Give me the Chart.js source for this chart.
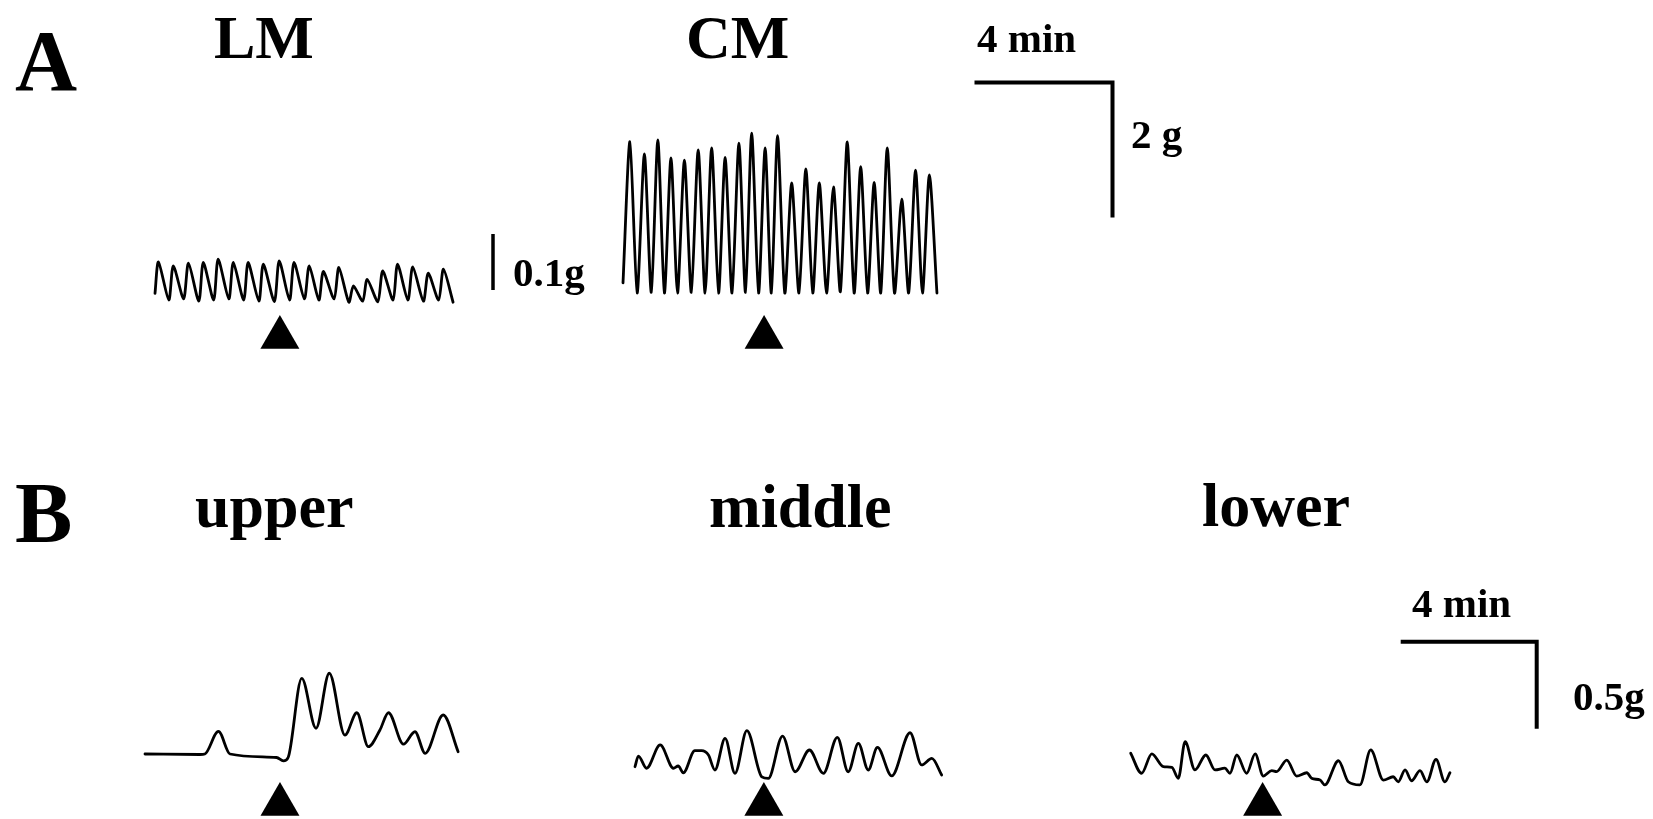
<!DOCTYPE html>
<html lang="en">
<head>
<meta charset="UTF-8">
<title>LM / CM and upper / middle / lower contractions</title>
<script src="https://cdn.jsdelivr.net/npm/chart.js"></script>
<style>
  body { margin: 0; width: 1653px; height: 819px; background: #fff; position: relative; overflow: hidden;
         font-family: 'Liberation Serif', 'Times New Roman', serif; }
  canvas { position: absolute; }
  .lbl { position: absolute; font-weight: bold; line-height: 1; white-space: nowrap; color: #000; }
</style>
</head>
<body>
<canvas id="lm"></canvas>
<canvas id="cm"></canvas>
<canvas id="upper"></canvas>
<canvas id="middle"></canvas>
<canvas id="lower"></canvas>

<script>
// ---- data: time in min, force in g ----
const lmTime = [0, 0.10, 0.40, 0.53, 0.83, 0.97, 1.27, 1.40, 1.70, 1.83, 2.14, 2.27, 2.57, 2.70, 3.01, 3.14, 3.46, 3.60, 3.90, 4.03,
                4.33, 4.47, 4.75, 4.88, 5.19, 5.33, 5.62, 5.75, 6.02, 6.15, 6.46, 6.60, 6.90, 7.03, 7.33, 7.47, 7.78, 7.92, 8.22, 8.36, 8.64];
const lmForce = [0.012, 0.068, 0.0, 0.061, 0.002, 0.066, -0.002, 0.067, 0.0, 0.073, 0.002, 0.067, 0.0, 0.067, -0.002, 0.064, -0.003, 0.070, 0.0, 0.067,
                 0.002, 0.061, 0.0, 0.051, 0.002, 0.058, -0.004, 0.025, -0.002, 0.037, -0.003, 0.052, 0.0, 0.064, 0.0, 0.059, -0.002, 0.048, 0.0, 0.055, -0.004];

const cmTime = [0, 0.20, 0.41, 0.62, 0.82, 1.01, 1.20, 1.39, 1.58, 1.78, 1.98, 2.18, 2.38, 2.57, 2.77, 2.96, 3.16, 3.36, 3.55, 3.73, 3.93, 4.12,
                4.30, 4.48, 4.69, 4.89, 5.10, 5.30, 5.50, 5.69, 5.90, 6.10, 6.30, 6.50, 6.70, 6.89, 7.09, 7.28, 7.47, 7.66, 7.87, 8.08, 8.28, 8.48, 8.68, 8.88, 9.10];
const cmForce = [0.15, 2.24, 0.0, 2.06, 0.01, 2.27, 0.0, 2.00, 0.0, 1.97, 0.01, 2.12, 0.0, 2.15, 0.0, 2.01, 0.0, 2.22, 0.01, 2.37, 0.0, 2.15,
                 0.0, 2.33, 0.0, 1.63, 0.0, 1.84, 0.0, 1.63, 0.0, 1.57, 0.02, 2.24, 0.0, 1.87, 0.0, 1.64, 0.0, 2.15, 0.0, 1.39, 0.0, 1.82, 0.0, 1.75, 0.0];

const upperTime = [0, 1.62, 1.76, 2.16, 2.50, 3.87, 4.07, 4.21, 4.61, 5.03, 5.42, 5.88, 6.23, 6.57, 6.91, 7.16, 7.60, 7.94, 8.24, 8.77, 9.21];
const upperForce = [0, -0.003, 0.0, 0.13, 0.0, -0.02, -0.04, -0.02, 0.435, 0.148, 0.464, 0.109, 0.237, 0.042, 0.138, 0.237, 0.057, 0.128, 0.004, 0.224, 0.013];

const middleTime = [0, 0.10, 0.34, 0.74, 1.13, 1.27, 1.42, 1.76, 1.96, 2.16, 2.35, 2.65, 2.94, 3.29, 3.73, 3.92, 4.34, 4.71, 5.13, 5.54,
                    5.95, 6.27, 6.57, 6.86, 7.13, 7.55, 8.09, 8.43, 8.73, 9.02];
const middleForce = [0.019, 0.080, 0.010, 0.144, 0.010, 0.023, -0.016, 0.111, 0.111, 0.086, 0.0, 0.182, -0.019, 0.226, -0.039, -0.048, 0.195, -0.010, 0.115, -0.019,
                     0.188, -0.010, 0.153, 0.0, 0.130, -0.034, 0.214, 0.029, 0.067, -0.029];

const lowerTime = [0, 0.32, 0.62, 0.96, 1.21, 1.40, 1.60, 1.89, 2.21, 2.48, 2.77, 2.92, 3.12, 3.41, 3.66, 3.90, 4.15, 4.29, 4.59, 4.88,
                   5.18, 5.32, 5.57, 5.71, 6.11, 6.40, 6.74, 7.06, 7.43, 7.72, 7.87, 8.07, 8.26, 8.51, 8.71, 8.98, 9.24, 9.39];
const lowerForce = [0.125, 0.010, 0.121, 0.048, 0.044, -0.019, 0.191, 0.029, 0.115, 0.029, 0.039, 0.010, 0.115, 0.010, 0.121, -0.006, 0.025, 0.019, 0.086, -0.006,
                    0.013, -0.019, -0.029, -0.057, 0.082, -0.039, -0.057, 0.144, -0.029, -0.010, -0.039, 0.029, -0.033, 0.025, -0.039, 0.090, -0.039, 0.013];

// time of drug application (triangles), min from trace start
const stimLM = 3.62, stimCM = 4.09, stimUpper = 3.97, stimMiddle = 3.79, stimLower = 3.88;

// calibration bars
const barMinutes = 4;
const lmBarG = 0.1, cmBarG = 2, bBarG = 0.5;

// ---- layout (pixels) ----
const PX_MIN_A = 34.5, PX_MIN_B = 34;
const PX_G_LM = 560, PX_G_CM = 67.5, PX_G_B = 174;
const INK = '#000';

function pts(xs, ys) { return xs.map((x, i) => ({ x: x, y: ys[i] })); }

// spiky traces (panel A) use a low-tension spline, slow waves (panel B) the monotone one
function traceLine(xs, ys, spiky) {
  const ds = { data: pts(xs, ys), borderColor: INK, borderWidth: 2.8, pointRadius: 0, clip: false,
               borderJoinStyle: 'round', borderCapStyle: 'round' };
  if (spiky) ds.tension = 0.25;
  else ds.cubicInterpolationMode = 'monotone';
  return ds;
}

function marker(t, g) {
  return { data: [{ x: t, y: g }], showLine: false, pointStyle: 'triangle', pointRadius: 22.5,
           pointBackgroundColor: INK, pointBorderWidth: 0, clip: false };
}

function bar(points, w) {
  return { data: points, borderColor: INK, borderWidth: w, tension: 0, pointRadius: 0,
           borderCapStyle: 'butt', borderJoinStyle: 'miter', clip: false };
}

function traceChart(id, box, origin, pxMin, pxG, datasets) {
  const cv = document.getElementById(id);
  cv.width = box.w; cv.height = box.h;
  cv.style.left = box.l + 'px'; cv.style.top = box.t + 'px';
  return new Chart(cv, {
    type: 'line',
    data: { datasets: datasets },
    options: {
      responsive: false,
      animation: false,
      layout: { padding: 0, autoPadding: false },
      plugins: { legend: { display: false }, tooltip: { enabled: false } },
      scales: {
        x: { type: 'linear', display: false,
             min: (box.l - origin.x) / pxMin, max: (box.l + box.w - origin.x) / pxMin },
        y: { type: 'linear', display: false,
             min: (origin.y - box.t - box.h) / pxG, max: (origin.y - box.t) / pxG }
      }
    }
  });
}

// px -> units helpers for one chart
const toT = (px, o, s) => (px - o.x) / s;
const toG = (py, o, s) => (o.y - py) / s;

// LM
const lmO = { x: 155, y: 300 };
const lmBarX = toT(493, lmO, PX_MIN_A), lmBarBottom = toG(290, lmO, PX_G_LM);
traceChart('lm', { l: 130, t: 215, w: 390, h: 140 }, lmO, PX_MIN_A, PX_G_LM, [
  traceLine(lmTime, lmForce, true),
  marker(stimLM, toG(337.5, lmO, PX_G_LM)),
  bar([{ x: lmBarX, y: lmBarBottom }, { x: lmBarX, y: lmBarBottom + lmBarG }], 3.5)
]);

// CM + calibration A
const cmO = { x: 623, y: 293 };
const cA = { x: toT(1112.5, cmO, PX_MIN_A), y: toG(82.5, cmO, PX_G_CM) };
traceChart('cm', { l: 600, t: 60, w: 560, h: 300 }, cmO, PX_MIN_A, PX_G_CM, [
  traceLine(cmTime, cmForce, true),
  marker(stimCM, toG(337.5, cmO, PX_G_CM)),
  bar([{ x: cA.x - barMinutes, y: cA.y }, { x: cA.x, y: cA.y }, { x: cA.x, y: cA.y - cmBarG }], 4)
]);

// B panel
const upO = { x: 145, y: 754 };
traceChart('upper', { l: 120, t: 650, w: 380, h: 169 }, upO, PX_MIN_B, PX_G_B, [
  traceLine(upperTime, upperForce, false),
  marker(stimUpper, toG(804.5, upO, PX_G_B))
]);

const midO = { x: 635, y: 770 };
traceChart('middle', { l: 600, t: 700, w: 380, h: 119 }, midO, PX_MIN_B, PX_G_B, [
  traceLine(middleTime, middleForce, false),
  marker(stimMiddle, toG(804.5, midO, PX_G_B))
]);

const lowO = { x: 1130.7, y: 775 };
const cB = { x: toT(1536.7, lowO, PX_MIN_B), y: toG(641.7, lowO, PX_G_B) };
traceChart('lower', { l: 1100, t: 600, w: 553, h: 219 }, lowO, PX_MIN_B, PX_G_B, [
  traceLine(lowerTime, lowerForce, false),
  marker(stimLower, toG(804.5, lowO, PX_G_B)),
  bar([{ x: cB.x - barMinutes, y: cB.y }, { x: cB.x, y: cB.y }, { x: cB.x, y: cB.y - bBarG }], 4)
]);

// ---- text ----
const labels = [
  ['A', 15, 90, 86], ['LM', 214, 58, 62], ['CM', 686, 58, 62],
  ['4 min', 977, 52, 41], ['2 g', 1131, 148, 41], ['0.1g', 513, 286, 41],
  ['B', 15, 542, 86], ['upper', 195, 527, 62], ['middle', 709, 527, 62], ['lower', 1202, 526, 62],
  ['4 min', 1412, 617, 41], ['0.5g', 1573, 710, 41]
];
labels.forEach(([txt, x, base, size]) => {
  const d = document.createElement('div');
  d.className = 'lbl';
  d.textContent = txt;
  d.style.fontSize = size + 'px';
  d.style.left = x + 'px';
  d.style.top = (base - 0.8375 * size) + 'px';
  document.body.appendChild(d);
});
</script>
</body>
</html>
